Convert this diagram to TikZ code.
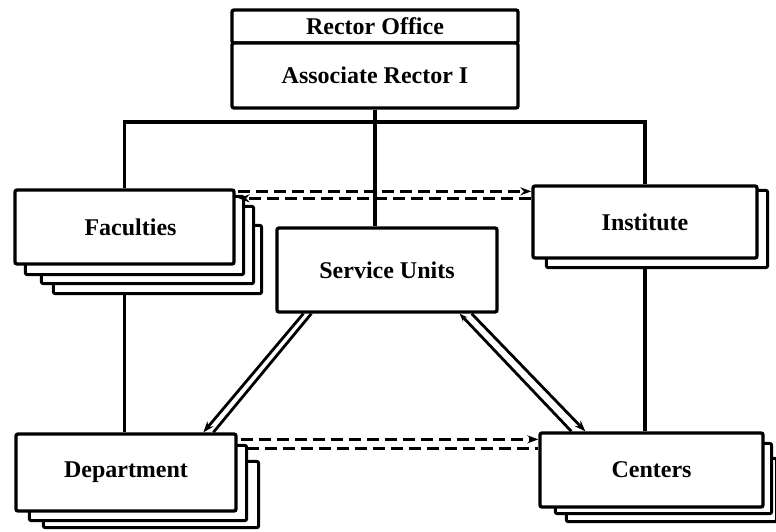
\documentclass[tikz,border=0pt]{standalone}
\usepackage{fontspec}
\setmainfont{Liberation Serif}
\usetikzlibrary{arrows.meta,backgrounds}
\begin{document}
\begin{tikzpicture}[x=1pt,y=-1pt,
  box/.style={draw,line width=3.3pt,fill=white,rounded corners=2pt,inner sep=0pt,
              font=\fontsize{24}{27}\selectfont\bfseries},
  layer/.style={draw,line width=3pt,fill=white,rounded corners=2pt},
  link/.style={line width=3.4pt},
  dashlink/.style={line width=2.8pt,dash pattern=on 12pt off 6pt},
  rail/.style={line width=2.8pt},
  tip/.style={-{Stealth[length=11pt,width=8pt]}}
]
\useasboundingbox (0,0) rectangle (776,532);

% rector office block
\node[box,minimum width=286pt,minimum height=33pt] (ro) at (375,26.5) {Rector Office};
\node[box,minimum width=286pt,minimum height=65pt] (ar) at (375,75.5) {Associate Rector I};

% unit boxes (front sheets)
\node[box,minimum width=220pt,minimum height=84pt] (svc) at (387,270) {Service Units};
\node[box,minimum width=219pt,minimum height=74pt] (fac) at (124.5,227) {\hspace*{12pt}Faculties};
\node[box,minimum width=224pt,minimum height=72pt] (inst) at (645,222) {Institute};
\node[box,minimum width=220pt,minimum height=77pt] (dep) at (126,472.5) {Department};
\node[box,minimum width=223pt,minimum height=74pt] (cen) at (651.5,470) {Centers};

\coordinate (bus) at (645,122);

\begin{scope}[on background layer]
  % solid reporting lines, partly hidden by the stacked sheets
  \draw[link] (ar.south) -- (ar.south |- svc.north);
  \draw[link] (fac.north) |- (bus) -- (inst.north);
  \draw[link] (fac.south) -- (fac.south |- dep.north);
  \draw[link] (inst.south) -- (inst.south |- cen.north);

  % stacked sheets behind the faculties
  \draw[layer] ([xshift=40pt,yshift=-37pt]fac.north west) rectangle ([xshift=26pt,yshift=-28pt]fac.south east);
  \draw[layer] ([xshift=28pt,yshift=-18pt]fac.north west) rectangle ([xshift=18pt,yshift=-18pt]fac.south east);
  \draw[layer] ([xshift=12pt,yshift=-8pt]fac.north west) rectangle ([xshift=8pt,yshift=-9pt]fac.south east);
  % stacked sheet behind the institute
  \draw[layer] ([xshift=15pt,yshift=-6pt]inst.north west) rectangle ([xshift=9pt,yshift=-8pt]inst.south east);
  % stacked sheets behind the department
  \draw[layer] ([xshift=29pt,yshift=-29pt]dep.north west) rectangle ([xshift=21pt,yshift=-15pt]dep.south east);
  \draw[layer] ([xshift=15pt,yshift=-13pt]dep.north west) rectangle ([xshift=9pt,yshift=-8pt]dep.south east);
  % stacked sheets behind the centers
  \draw[layer] ([xshift=28pt,yshift=-27pt]cen.north west) rectangle ([xshift=12pt,yshift=-13pt]cen.south east);
  \draw[layer] ([xshift=17pt,yshift=-12pt]cen.north west) rectangle ([xshift=7pt,yshift=-5pt]cen.south east);
\end{scope}

% dashed coordination links
\draw[dashlink,tip] ([xshift=2pt,yshift=-3pt]fac.north east) -- ([yshift=-7pt]inst.north west);
\draw[dashlink,tip] ([yshift=-14pt]inst.north west) -- ([xshift=3pt,yshift=-10pt]fac.north east);
\draw[dashlink,tip] ([xshift=3pt,yshift=-7pt]dep.north east) -- ([yshift=-8pt]cen.north west);
\draw[dashlink] ([xshift=9pt,yshift=-16pt]dep.north east) -- ([yshift=-17pt]cen.north west);

% double service rails
\draw[rail,tip] ([xshift=28pt]svc.south west) -- ([xshift=189pt]dep.north west);
\draw[rail] ([xshift=36pt]svc.south west) -- ([xshift=199pt]dep.north west);
\draw[rail,-{Stealth[length=8pt,width=6pt]}] ([xshift=33pt]cen.north west) -- ([xshift=-39pt]svc.south east);
\draw[rail,tip] ([xshift=-27pt]svc.south east) -- ([xshift=47pt]cen.north west);
\end{tikzpicture}
\end{document}
